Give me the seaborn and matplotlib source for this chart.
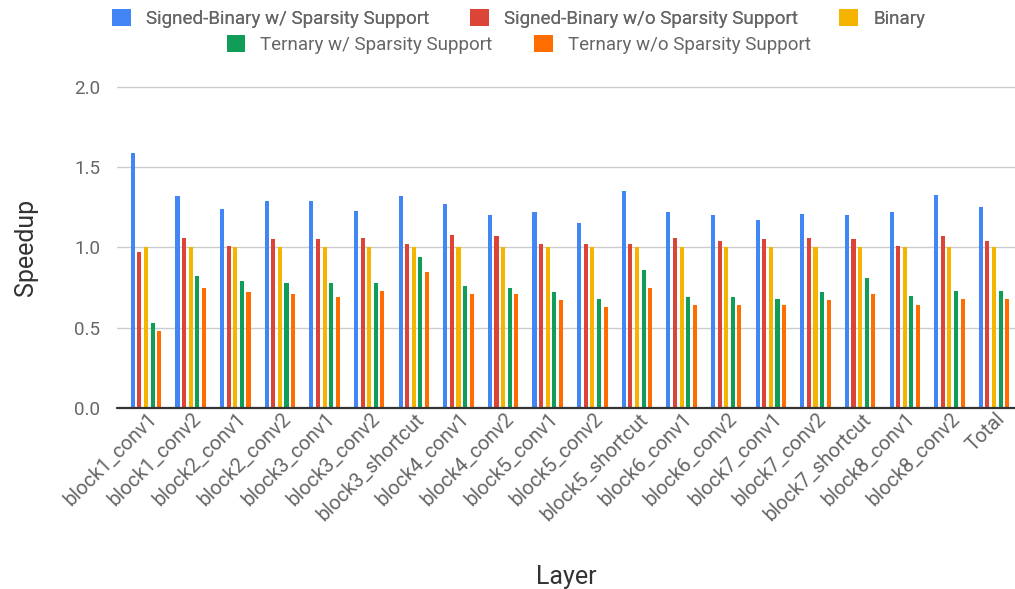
import pandas as pd
import numpy as np

import matplotlib
matplotlib.use('AGG')
import matplotlib.pyplot as plt
import matplotlib.transforms as mtransforms
from matplotlib.patches import Patch
import seaborn as sns

# layers on the x axis
layers = ['block1_conv1', 'block1_conv2', 'block2_conv1', 'block2_conv2', 'block3_conv1',
          'block3_conv2', 'block3_shortcut', 'block4_conv1', 'block4_conv2', 'block5_conv1',
          'block5_conv2', 'block5_shortcut', 'block6_conv1', 'block6_conv2', 'block7_conv1',
          'block7_conv2', 'block7_shortcut', 'block8_conv1', 'block8_conv2', 'Total']

series_names = ['Signed-Binary w/ Sparsity Support', 'Signed-Binary w/o Sparsity Support',
                'Binary', 'Ternary w/ Sparsity Support', 'Ternary w/o Sparsity Support']

# speedup values
sb_sparse = [1.59, 1.32, 1.24, 1.29, 1.29, 1.23, 1.32, 1.27, 1.20, 1.22,
             1.15, 1.35, 1.22, 1.20, 1.17, 1.21, 1.20, 1.22, 1.33, 1.25]
sb_dense = [0.97, 1.06, 1.01, 1.05, 1.05, 1.06, 1.02, 1.08, 1.07, 1.02,
            1.02, 1.02, 1.06, 1.04, 1.05, 1.06, 1.05, 1.01, 1.07, 1.04]
binary = [1.00] * 20
tern_sparse = [0.53, 0.82, 0.79, 0.78, 0.78, 0.78, 0.94, 0.76, 0.75, 0.72,
               0.68, 0.86, 0.69, 0.69, 0.68, 0.72, 0.81, 0.70, 0.73, 0.73]
tern_dense = [0.48, 0.75, 0.72, 0.71, 0.69, 0.73, 0.85, 0.71, 0.71, 0.67,
              0.63, 0.75, 0.64, 0.64, 0.64, 0.67, 0.71, 0.64, 0.68, 0.68]

colors = ['#4285F4', '#DB4437', '#F4B400', '#0F9D58', '#FF6D01']

# long format table for seaborn
rows = []
for name, vals in zip(series_names, [sb_sparse, sb_dense, binary, tern_sparse, tern_dense]):
    for layer, v in zip(layers, vals):
        rows.append({'Layer': layer, 'Speedup': v, 'Series': name})
df = pd.DataFrame(rows)

sns.set_style('white')
plt.rcParams['font.family'] = ['Roboto', 'DejaVu Sans']

fig = plt.figure(figsize=(10.15, 5.89), dpi=100)
ax = fig.add_axes([0.1153, 0.3073, 0.8847, 0.545])

sns.barplot(data=df, x='Layer', y='Speedup', hue='Series', hue_order=series_names,
            palette=colors, width=0.74, gap=0.38, saturation=1, legend=False,
            errorbar=None, ax=ax, zorder=3, linewidth=0)

ax.set_ylim(0, 2.0)
ax.set_xlim(-0.65, 19.47)
ax.set_yticks([0, 0.5, 1.0, 1.5, 2.0])
ax.set_yticklabels(['0.0', '0.5', '1.0', '1.5', '2.0'])
for y in [0.5, 1.0, 1.5, 2.0]:
    ax.axhline(y, color='#cccccc', lw=1, zorder=1, clip_on=False)
ax.axhline(0, color='#333333', lw=1.6, zorder=4, clip_on=False)
for s in ax.spines.values():
    s.set_visible(False)

ax.tick_params(axis='y', length=0, pad=12, labelsize=13.5, labelcolor='#666666')
ax.tick_params(axis='x', length=0, pad=8, labelsize=14.5, labelcolor='#666666')
shift = mtransforms.ScaledTranslation(8 / 100, 3 / 100, fig.dpi_scale_trans)
for lab in ax.get_xticklabels():
    lab.set_rotation(45)
    lab.set_ha('right')
    lab.set_va('center')
    lab.set_rotation_mode('anchor')
    lab.set_transform(lab.get_transform() + shift)

ax.set_ylabel('Speedup', fontsize=18, color='#333333', labelpad=26)
ax.set_xlabel('Layer', fontsize=18, color='#333333')
ax.xaxis.set_label_coords(0.5, -0.49)

# legend laid out in two centred rows, like the original
handles = [Patch(facecolor=c, edgecolor='none') for c in colors]
leg1 = fig.legend(handles[:3], series_names[:3], ncol=3, loc='center',
                  bbox_to_anchor=(0.511, 0.969), frameon=False, fontsize=13.5,
                  handlelength=1.0, handleheight=1.0, columnspacing=2.2, handletextpad=0.8,
                  labelcolor='#666666')
leg2 = fig.legend(handles[3:], series_names[3:], ncol=2, loc='center',
                  bbox_to_anchor=(0.511, 0.925), frameon=False, fontsize=13.5,
                  handlelength=1.0, handleheight=1.0, columnspacing=2.2, handletextpad=0.8,
                  labelcolor='#666666')
fig.add_artist(leg1)

plt.savefig('out.png', dpi=100)
